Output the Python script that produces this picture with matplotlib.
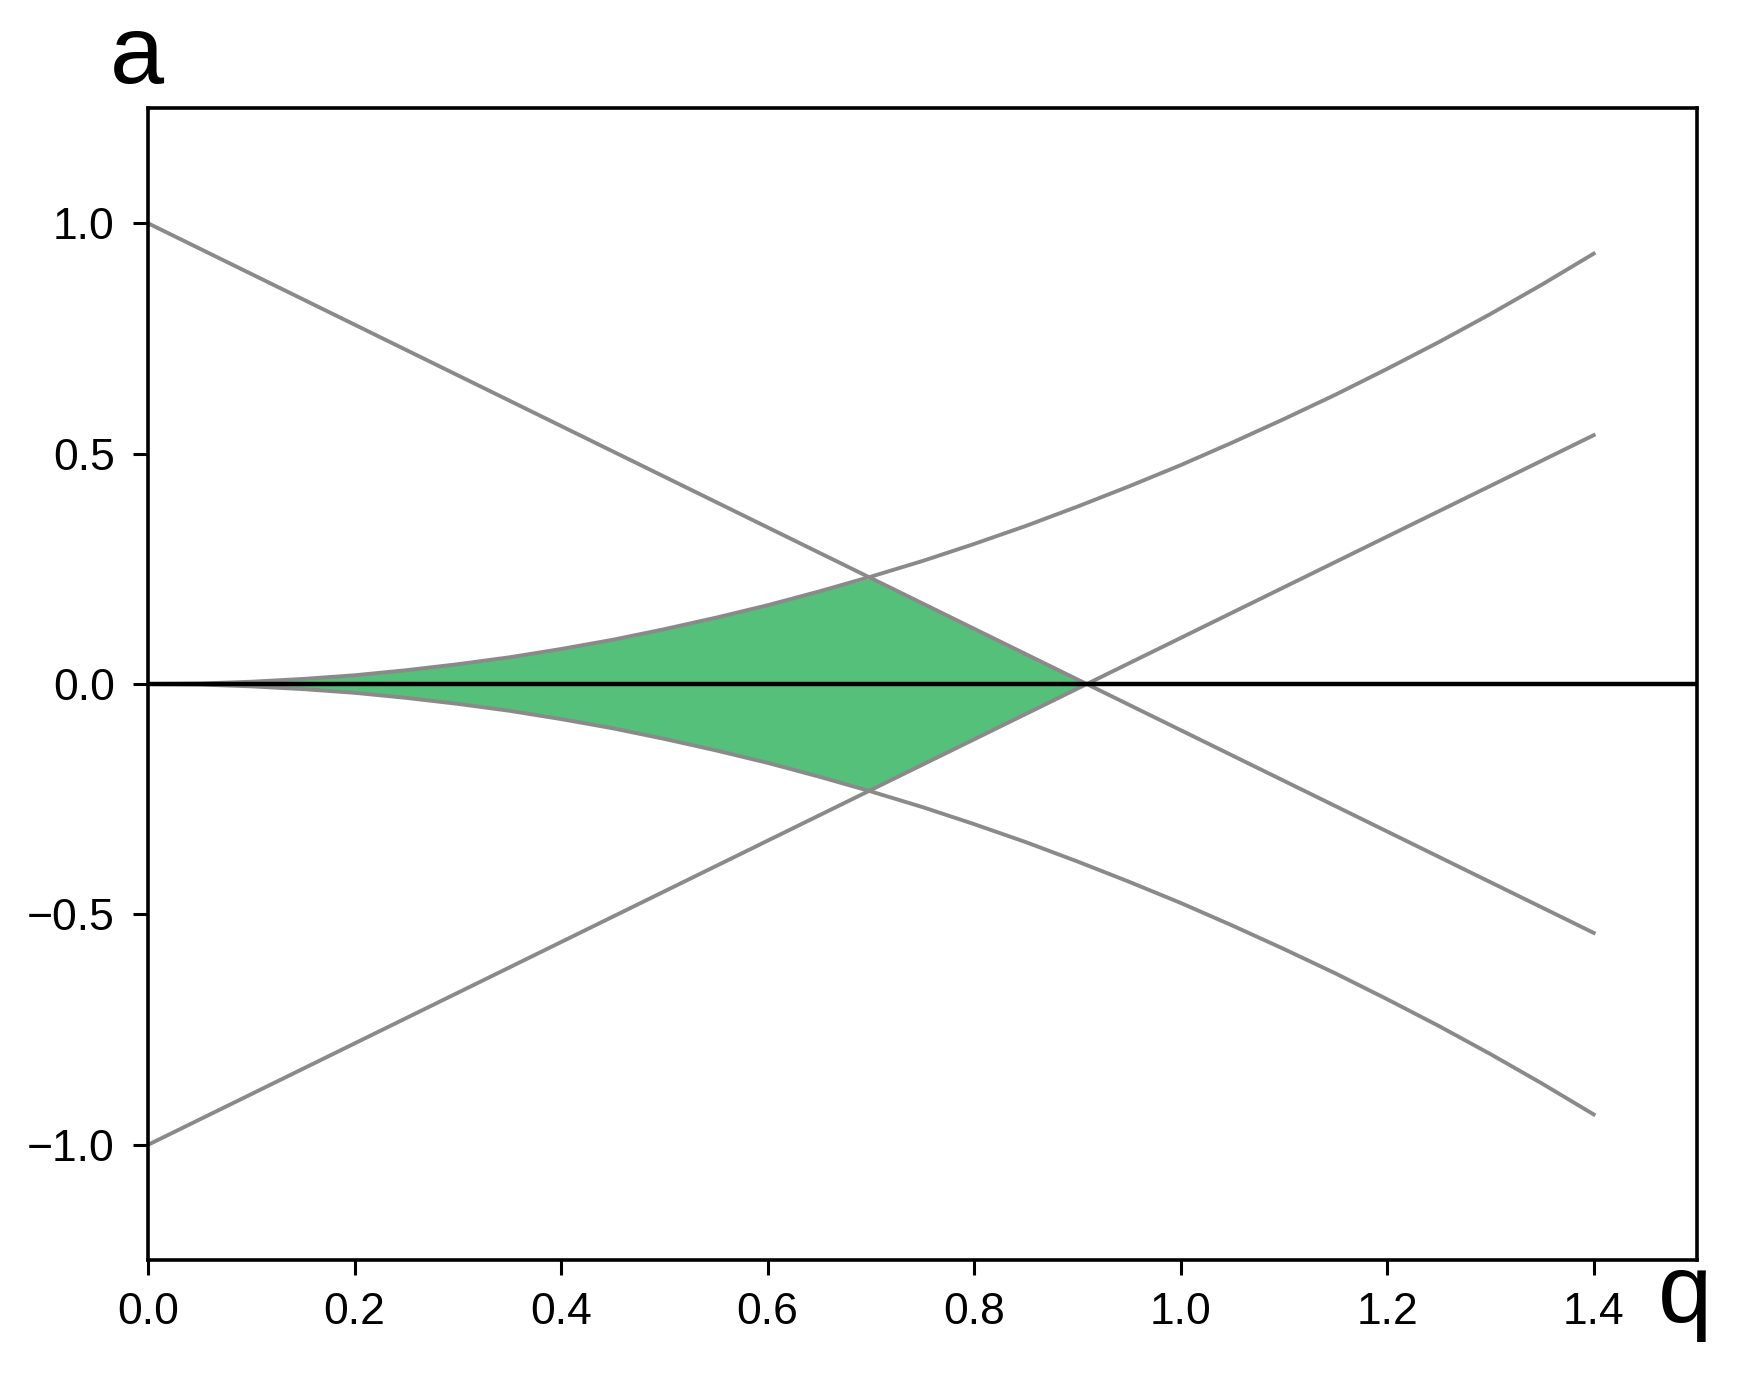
import numpy as np
import matplotlib.pyplot as plt

plt.rcParams['font.family'] = ['Liberation Sans', 'DejaVu Sans']

# ── data ──────────────────────────────────────────────────────────────────
q = [0.00, 0.05, 0.10, 0.15, 0.20, 0.25, 0.30, 0.35, 0.40, 0.45, 0.50,
     0.55, 0.60, 0.65, 0.70, 0.75, 0.80, 0.85, 0.90, 0.95, 1.00, 1.05,
     1.10, 1.15, 1.20, 1.25, 1.30, 1.35, 1.40]
line_down = [1.000, 0.945, 0.890, 0.835, 0.780, 0.725, 0.670, 0.615, 0.560,
             0.505, 0.450, 0.395, 0.340, 0.285, 0.230, 0.175, 0.120, 0.065,
             0.010, -0.045, -0.100, -0.155, -0.210, -0.265, -0.320, -0.375,
             -0.430, -0.485, -0.540]
curve_up = [0.000, 0.001, 0.005, 0.011, 0.019, 0.030, 0.043, 0.058, 0.076,
            0.096, 0.119, 0.144, 0.171, 0.201, 0.233, 0.267, 0.304, 0.343,
            0.385, 0.429, 0.475, 0.524, 0.575, 0.628, 0.684, 0.742, 0.803,
            0.867, 0.934]
line_up = [-v for v in line_down]
curve_down = [-v for v in curve_up]

x_ticks = [0.0, 0.2, 0.4, 0.6, 0.8, 1.0, 1.2, 1.4]
y_ticks = [-1.0, -0.5, 0.0, 0.5, 1.0]

GRAY = '#8a8a8a'
GREEN = '#55c07a'

fig = plt.figure(figsize=(17.41, 13.78), dpi=100)
ax = fig.add_axes([0.085, 0.0856, 0.8897, 0.836])
ax.set_xlim(0, 1.5)
ax.set_ylim(-1.25, 1.25)

qa = np.array(q)
upper = np.minimum(np.array(line_down), np.array(curve_up))
ax.fill_between(qa, upper, -upper, where=upper >= 0, interpolate=True,
                color=GREEN, lw=0, zorder=1)

for ys in (line_down, line_up, curve_up, curve_down):
    ax.plot(q, ys, color=GRAY, lw=2.8, zorder=2)

ax.axhline(0, color='black', lw=3.2, zorder=3)

ax.set_xticks(x_ticks)
ax.set_yticks(y_ticks)
ax.set_xticklabels([f'{v:.1f}' for v in x_ticks])
ax.set_yticklabels([f'{v:.1f}'.replace('-', '\u2212') for v in y_ticks])
ax.tick_params(direction='out', length=11, width=2.2, labelsize=32)
ax.tick_params(axis='x', pad=12)
ax.tick_params(axis='y', pad=13)
for sp in ax.spines.values():
    sp.set_linewidth(2.6)

fig.text(137 / 1741, 1 - 83 / 1378, 'a', fontsize=70, ha='center', va='baseline')
fig.text(1685 / 1741, 1 - 1322 / 1378, 'q', fontsize=70, ha='center', va='baseline')

fig.savefig('out.png', dpi=100)
